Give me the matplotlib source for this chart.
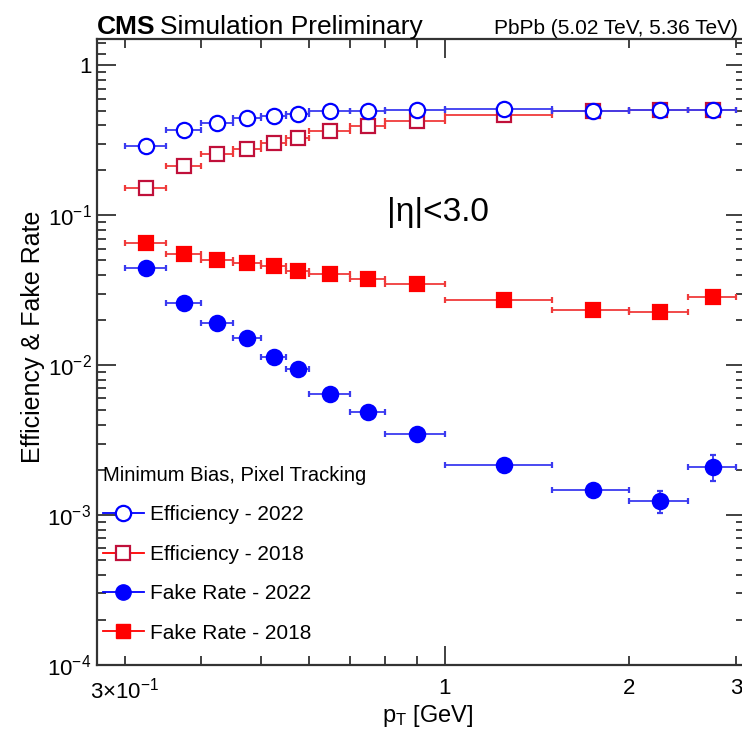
import numpy as np
import matplotlib
matplotlib.use("Agg")
import matplotlib.pyplot as plt
from matplotlib.lines import Line2D
from matplotlib.ticker import FixedLocator, FuncFormatter, NullFormatter

# ---- data -------------------------------------------------------------
bin_edges = [0.3, 0.35, 0.4, 0.45, 0.5, 0.55, 0.6, 0.7, 0.8, 1.0, 1.5, 2.0, 2.5, 3.0]
eff_2022 = [0.29, 0.37, 0.415, 0.445, 0.46, 0.475, 0.495, 0.50, 0.505, 0.51, 0.50, 0.505, 0.505]
eff_2018 = [0.153, 0.212, 0.258, 0.278, 0.303, 0.328, 0.365, 0.392, 0.425, 0.464, 0.496, 0.506, 0.506]
fake_2022 = [0.0448, 0.0258, 0.0191, 0.0151, 0.0114, 0.0094, 0.0064, 0.0049, 0.0035,
             0.00215, 0.00147, 0.00124, 0.0021]
fake_2022_err = [0.0006, 0.0004, 0.0003, 0.0003, 0.0002, 0.0002, 0.00015, 0.00015, 0.00012,
                 0.0001, 0.0001, 0.0002, 0.0004]
fake_2018 = [0.0654, 0.0555, 0.0507, 0.0481, 0.0459, 0.0425, 0.0404, 0.0373, 0.0347,
             0.0271, 0.0233, 0.0227, 0.0285]

x_tick_labels = {0.3: r"$3{\times}10^{-1}$", 1.0: "1", 2.0: "2", 3.0: "3"}
legend_title = "Minimum Bias, Pixel Tracking"
labels = ["Efficiency - 2022", "Efficiency - 2018", "Fake Rate - 2022", "Fake Rate - 2018"]

# ---- style ------------------------------------------------------------
plt.rcParams["font.family"] = ["Liberation Sans", "DejaVu Sans"]
plt.rcParams["mathtext.fontset"] = "custom"
plt.rcParams["mathtext.rm"] = "Liberation Sans"
plt.rcParams["mathtext.it"] = "Liberation Sans:italic"
plt.rcParams["mathtext.bf"] = "Liberation Sans:bold"

BLUE = "#0000ff"
RED = "#ff0000"
BLUE_BAR = "#3a3af0"
RED_BAR = "#f03a3a"
W, H = 742, 736

fig = plt.figure(figsize=(W / 100, H / 100), dpi=100)
ax = fig.add_axes([97 / W, 1 - 665 / H, (745 - 97) / W, (665 - 39) / H])

edges = np.array(bin_edges)
lo, hi = edges[:-1], edges[1:]
xc = 0.5 * (lo + hi)
xerr = [xc - lo, hi - xc]

common = dict(linestyle="none", capsize=2.5, elinewidth=1.3, capthick=1.3, markeredgewidth=1.6)

ax.errorbar(xc, eff_2018, xerr=xerr, fmt="s", color=RED, ecolor=RED_BAR, mfc="white",
            mec="#c0103a", ms=10, zorder=3, **common)
ax.errorbar(xc, eff_2022, xerr=xerr, fmt="o", color=BLUE, ecolor=BLUE_BAR, mfc="white",
            mec=BLUE, ms=11, zorder=4, **common)
ax.errorbar(xc, fake_2022, xerr=xerr, yerr=fake_2022_err, fmt="o", color=BLUE, ecolor=BLUE_BAR,
            mfc=BLUE, mec=BLUE, ms=11, zorder=3, **common)
ax.errorbar(xc, fake_2018, xerr=xerr, fmt="s", color=RED, ecolor=RED_BAR, mfc=RED, mec=RED,
            ms=10, zorder=3, **common)

ax.set_xscale("log")
ax.set_yscale("log")
ax.set_xlim(0.27, 3.1)
ax.set_ylim(1e-4, 1.5)

# x ticks: one long tick at 1, short ones elsewhere, labels on a few
ax.xaxis.set_major_locator(FixedLocator([1.0]))
ax.xaxis.set_minor_locator(FixedLocator([0.3, 0.4, 0.5, 0.6, 0.7, 0.8, 0.9, 2.0, 3.0]))
ax.xaxis.set_major_formatter(FuncFormatter(lambda v, p: x_tick_labels.get(round(v, 3), "")))
ax.xaxis.set_minor_formatter(FuncFormatter(lambda v, p: x_tick_labels.get(round(v, 3), "")))

ydecades = [1e-4, 1e-3, 1e-2, 1e-1, 1.0]
yminor = [m * d for d in ydecades[:-1] for m in range(2, 10)] + [1.2, 1.4]
ax.yaxis.set_major_locator(FixedLocator(ydecades))
ax.yaxis.set_minor_locator(FixedLocator(yminor))


def ylab(v, p):
    if abs(v - 1.0) < 1e-9:
        return "1"
    return r"$10^{%d}$" % int(round(np.log10(v)))


ax.yaxis.set_major_formatter(FuncFormatter(ylab))
ax.yaxis.set_minor_formatter(NullFormatter())

ax.tick_params(which="both", direction="in", top=True, right=True, color="#333333", width=1.3)
ax.tick_params(which="major", length=14)
ax.tick_params(which="minor", length=6.5)
ax.tick_params(axis="y", which="major", labelsize=16, pad=4)
ax.tick_params(axis="x", which="both", labelsize=16, pad=9)
for s in ax.spines.values():
    s.set_linewidth(1.6)
    s.set_color("#333333")

# axis titles
fig.text(33 / W, 1 - 337 / H, "Efficiency & Fake Rate", rotation=90, ha="center", va="center",
         fontsize=18)
fig.text(428 / W, 1 - 716 / H, r"p$_{\mathregular{T}}$ [GeV]", ha="center", va="center", fontsize=17)

# header texts
cms = fig.text(97 / W, 1 - 34 / H, "CMS", fontsize=19, fontweight="bold", va="baseline")
fig.canvas.draw()
bb = cms.get_window_extent()
fig.text((bb.x1 + 5) / W, 1 - 34 / H, "Simulation Preliminary", fontsize=19, va="baseline")
fig.text(738 / W, 1 - 34 / H, "PbPb (5.02 TeV, 5.36 TeV)", fontsize=15, ha="right", va="baseline")

fig.text(387 / W, 1 - 213 / H, "|η|<3.0", fontsize=24, ha="left", va="center")

# legend
handles = [
    Line2D([], [], color=BLUE, marker="o", mfc="white", mec=BLUE, ms=11, lw=1.3, mew=1.6),
    Line2D([], [], color=RED, marker="s", mfc="white", mec="#c0103a", ms=10, lw=1.3, mew=1.6),
    Line2D([], [], color=BLUE, marker="o", mfc=BLUE, mec=BLUE, ms=11, lw=1.3),
    Line2D([], [], color=RED, marker="s", mfc=RED, mec=RED, ms=10, lw=1.3),
]
leg = ax.legend(handles, labels, title=legend_title, loc="upper left",
                bbox_to_anchor=(103 / W, 1 - 466 / H), bbox_transform=fig.transFigure,
                frameon=False, fontsize=15, title_fontsize=14.5, handlelength=1.95,
                handletextpad=0.3, labelspacing=0.98, borderpad=0, borderaxespad=0,
                alignment="left")

fig.savefig("out.png", dpi=100)
